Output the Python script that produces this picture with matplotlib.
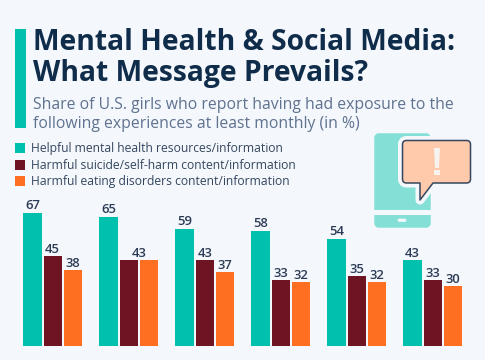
#!/usr/bin/env python3
# -*- coding: utf-8 -*-
"""
Mental health and social media, grouped bars with title block and phone icon
"""

import matplotlib
matplotlib.use('Agg')
import matplotlib.pyplot as plt
from matplotlib.patches import FancyBboxPatch, Polygon, Rectangle, PathPatch
from matplotlib.path import Path
import numpy as np

##! Data:
helpful = [67, 65, 59, 58, 54, 43]
suicide = [45, 43, 43, 33, 35, 33]
eating  = [38, 43, 37, 32, 32, 30]
series_names = ['Helpful mental health resources/information',
                'Harmful suicide/self-harm content/information',
                'Harmful eating disorders content/information']

title_lines = ['Mental Health & Social Media:', 'What Message Prevails?']
sub_lines = ['Share of U.S. girls who report having had exposure to the',
             'following experiences at least monthly (in %)']

TEAL = '#00C1AE'
MAROON = '#6E1423'
ORANGE = '#FF6F22'
BG = '#F4F7FB'
colors = [TEAL, MAROON, ORANGE]

W, H = 485, 360
plt.rcParams['font.family'] = ['Open Sans', 'DejaVu Sans']
fig = plt.figure(figsize=((W+0.01)/100, (H+0.01)/100), dpi=100, facecolor=BG)

##! Overlay in pixel coordinates for the title block and icon:
deco = fig.add_axes([0, 0, 1, 1])
deco.set_xlim(0, W)
deco.set_ylim(H, 0)
deco.axis('off')

deco.add_patch(Rectangle((14.5, 29), 11, 99, color=TEAL, lw=0))
deco.text(33, 50, title_lines[0], fontsize=20.35, fontweight='bold', color='#0F2C4A')
deco.text(33, 81, title_lines[1], fontsize=20.35, fontweight='bold', color='#0F2C4A')
deco.text(32.5, 108.5, sub_lines[0], fontsize=11.35, color='#5F7290')
deco.text(32.5, 128, sub_lines[1], fontsize=11.35, color='#5F7290')

for name, c, yy in zip(series_names, colors, [148.5, 165, 181]):
    deco.add_patch(Rectangle((14.5, yy-5), 10.5, 10, color=c, lw=0))
    deco.text(30.5, yy+3.6, name, fontsize=8.7, color='#34475F')

# phone
PHONE = '#84E0D6'
deco.add_patch(FancyBboxPatch((376, 135), 53, 91, boxstyle='round,pad=0,rounding_size=3',
                              fc=PHONE, ec=PHONE, lw=2.5))
deco.add_patch(Rectangle((373, 210), 60, 5, color=BG, lw=0))
deco.add_patch(FancyBboxPatch((398, 219), 8, 2.5, boxstyle='round,pad=0,rounding_size=1.2',
                              fc=BG, ec=BG, lw=0.5))

# speech bubble: white halo, then fill and outline
x0, x1, y0, y1 = 402.5, 470.5, 140.5, 183
r = 4
bub = Path([(x0+r, y0), (x1-r, y0), (x1, y0), (x1, y0+r), (x1, y1-r), (x1, y1), (x1-r, y1),
            (433, y1), (420, 200), (420, y1), (x0+r, y1), (x0, y1), (x0, y1-r),
            (x0, y0+r), (x0, y0), (x0+r, y0), (x0+r, y0)],
           [Path.MOVETO, Path.LINETO, Path.CURVE3, Path.CURVE3, Path.LINETO, Path.CURVE3,
            Path.CURVE3, Path.LINETO, Path.LINETO, Path.LINETO, Path.LINETO, Path.CURVE3,
            Path.CURVE3, Path.LINETO, Path.CURVE3, Path.CURVE3, Path.CLOSEPOLY])
deco.add_patch(PathPatch(bub, fc=BG, ec=BG, lw=6.5, joinstyle='round'))
deco.add_patch(PathPatch(bub, fc='#FFC9AC', ec='#34475F', lw=1.1, joinstyle='round'))
deco.add_patch(Polygon([(434, 148), (440, 148), (439, 168), (435, 168)], fc='#F7F4F0', lw=0))
deco.add_patch(Rectangle((434.3, 170.5), 5.4, 4.5, fc='#F7F4F0', lw=0))

##! Bars:
ax = fig.add_axes([14.7/W, (H-346)/H, 456/W, 140/H])
ax.patch.set_alpha(0)
ax.set_xlim(-0.5, 5.5)
ax.set_ylim(0, 140/1.99)
ax.axis('off')

x = np.arange(len(helpful))
step = 20.2/76.
for off, vals, c in zip([-1, 0, 1], [helpful, suicide, eating], colors):
    ax.bar(x + off*step, vals, width=18.3/76., color=c, edgecolor='none')

for i in x:
    trio = [helpful[i], suicide[i], eating[i]]
    for j, v in enumerate(trio):
        if j == 2 and trio[1] == trio[2]:
            continue
        pos = i + (j-1)*step
        if j == 1 and trio[1] == trio[2]:
            pos = i + 0.5*step
        ax.annotate(str(v), (pos, v), xytext=(0, 2.7), textcoords='offset points',
                    ha='center', va='baseline', fontsize=9.4, fontweight='semibold',
                    color='#2A3A55', annotation_clip=False)

fig.savefig('out.png', dpi=100, facecolor=BG)
